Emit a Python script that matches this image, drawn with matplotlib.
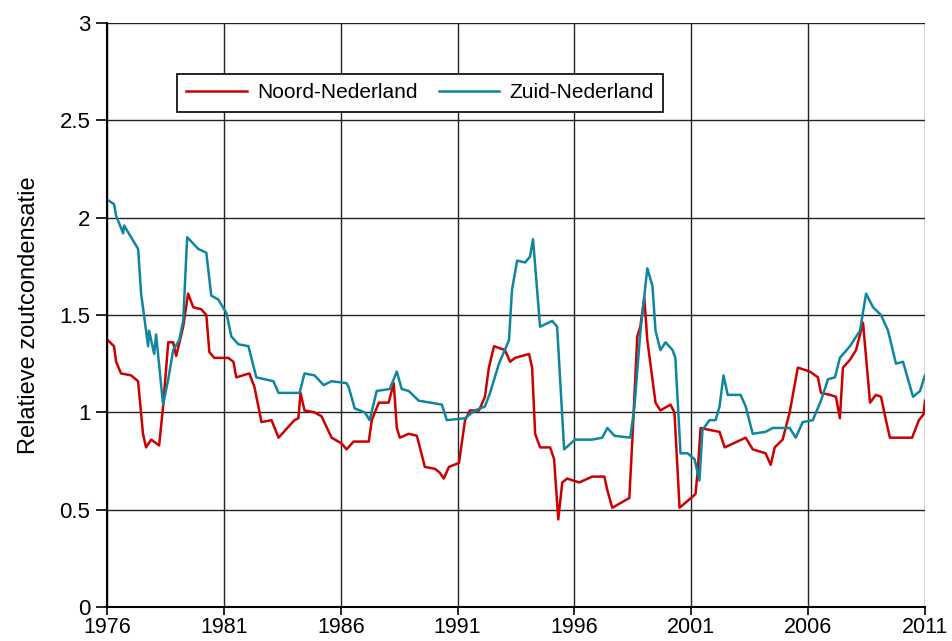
import matplotlib
matplotlib.use("Agg")
import matplotlib.pyplot as plt

plt.rcParams["font.family"] = ["Liberation Sans", "DejaVu Sans"]

noord_jaar = [1976.04, 1976.30, 1976.39, 1976.60, 1977.03, 1977.33, 1977.54, 1977.67, 1977.89, 1978.23,
              1978.40, 1978.62, 1978.83, 1978.96, 1979.26, 1979.47, 1979.69, 1980.03, 1980.25, 1980.38,
              1980.59, 1981.19, 1981.41, 1981.53, 1982.09, 1982.31, 1982.61, 1983.04, 1983.34, 1984.02,
              1984.19, 1984.28, 1984.45, 1984.88, 1985.18, 1985.61, 1986.04, 1986.25, 1986.55, 1987.20,
              1987.33, 1987.63, 1988.05, 1988.27, 1988.40, 1988.53, 1988.91, 1989.26, 1989.60, 1990.03,
              1990.24, 1990.41, 1990.63, 1991.06, 1991.32, 1991.53, 1991.92, 1992.17, 1992.34, 1992.56,
              1993.03, 1993.25, 1993.46, 1994.06, 1994.19, 1994.32, 1994.53, 1994.96, 1995.13, 1995.31,
              1995.48, 1995.69, 1996.21, 1996.76, 1997.28, 1997.41, 1997.62, 1998.35, 1998.48, 1998.69,
              1998.82, 1998.99, 1999.12, 1999.47, 1999.68, 2000.11, 2000.28, 2000.50, 2001.18, 2001.27,
              2001.40, 2001.78, 2002.21, 2002.43, 2003.33, 2003.63, 2004.18, 2004.40, 2004.57, 2004.91,
              2005.21, 2005.56, 2006.07, 2006.42, 2006.55, 2006.94, 2007.19, 2007.36, 2007.49, 2007.79,
              2008.05, 2008.35, 2008.65, 2008.90, 2009.12, 2009.33, 2009.50, 2009.93, 2010.45, 2010.74,
              2010.94, 2011.0]
noord_waarde = [1.37, 1.34, 1.26, 1.20, 1.19, 1.16, 0.89, 0.82, 0.86, 0.83,
                1.03, 1.36, 1.36, 1.29, 1.44, 1.61, 1.54, 1.53, 1.50, 1.31,
                1.28, 1.28, 1.26, 1.18, 1.20, 1.13, 0.95, 0.96, 0.87, 0.96,
                0.97, 1.10, 1.01, 1.00, 0.98, 0.87, 0.84, 0.81, 0.85, 0.85,
                0.96, 1.05, 1.05, 1.15, 0.92, 0.87, 0.89, 0.88, 0.72, 0.71,
                0.69, 0.66, 0.72, 0.74, 0.96, 1.01, 1.01, 1.08, 1.23, 1.34,
                1.32, 1.26, 1.28, 1.30, 1.23, 0.89, 0.82, 0.82, 0.76, 0.45,
                0.64, 0.66, 0.64, 0.67, 0.67, 0.60, 0.51, 0.56, 0.86, 1.39,
                1.44, 1.59, 1.37, 1.05, 1.01, 1.04, 1.00, 0.51, 0.58, 0.69,
                0.92, 0.91, 0.90, 0.82, 0.87, 0.81, 0.79, 0.73, 0.82, 0.86,
                1.00, 1.23, 1.21, 1.18, 1.10, 1.09, 1.08, 0.97, 1.23, 1.27,
                1.32, 1.46, 1.05, 1.09, 1.08, 0.96, 0.87, 0.87, 0.87, 0.96,
                0.99, 1.06]

# Zuid-Nederland
zuid_jaar = [1976.04, 1976.30, 1976.39, 1976.69, 1976.73, 1977.33, 1977.46, 1977.76, 1977.80, 1978.02,
             1978.10, 1978.40, 1978.62, 1978.83, 1979.09, 1979.26, 1979.43, 1979.90, 1980.25, 1980.46,
             1980.76, 1981.11, 1981.32, 1981.62, 1982.05, 1982.39, 1983.12, 1983.34, 1984.24, 1984.45,
             1984.88, 1985.27, 1985.61, 1986.25, 1986.34, 1986.60, 1987.03, 1987.24, 1987.54, 1988.10,
             1988.40, 1988.61, 1988.91, 1989.34, 1990.33, 1990.54, 1991.32, 1991.74, 1992.17, 1992.39,
             1992.77, 1993.20, 1993.33, 1993.55, 1993.89, 1994.10, 1994.23, 1994.53, 1995.05, 1995.26,
             1995.56, 1996.03, 1996.76, 1997.19, 1997.41, 1997.71, 1998.39, 1998.57, 1998.82, 1999.12,
             1999.34, 1999.47, 1999.68, 1999.90, 2000.20, 2000.32, 2000.54, 2000.84, 2001.14, 2001.35,
             2001.48, 2001.78, 2002.04, 2002.21, 2002.38, 2002.56, 2003.11, 2003.33, 2003.63, 2004.18,
             2004.49, 2005.21, 2005.47, 2005.77, 2006.20, 2006.55, 2006.85, 2007.15, 2007.36, 2007.79,
             2008.22, 2008.48, 2008.78, 2009.12, 2009.42, 2009.76, 2010.06, 2010.49, 2010.79, 2011.0]
zuid_waarde = [2.09, 2.07, 2.01, 1.92, 1.96, 1.84, 1.61, 1.34, 1.42, 1.30,
               1.40, 1.04, 1.17, 1.32, 1.37, 1.47, 1.90, 1.84, 1.82, 1.60,
               1.58, 1.51, 1.39, 1.35, 1.34, 1.18, 1.16, 1.10, 1.10, 1.20,
               1.19, 1.14, 1.16, 1.15, 1.13, 1.02, 1.00, 0.96, 1.11, 1.12,
               1.21, 1.12, 1.11, 1.06, 1.04, 0.96, 0.97, 1.01, 1.03, 1.10,
               1.25, 1.37, 1.63, 1.78, 1.77, 1.80, 1.89, 1.44, 1.47, 1.44,
               0.81, 0.86, 0.86, 0.87, 0.92, 0.88, 0.87, 1.03, 1.41, 1.74,
               1.65, 1.42, 1.32, 1.36, 1.32, 1.28, 0.79, 0.79, 0.76, 0.65,
               0.91, 0.96, 0.96, 1.03, 1.19, 1.09, 1.09, 1.03, 0.89, 0.90,
               0.92, 0.92, 0.87, 0.95, 0.96, 1.06, 1.17, 1.18, 1.28, 1.34,
               1.42, 1.61, 1.54, 1.50, 1.42, 1.25, 1.26, 1.08, 1.11, 1.19]

x_ticks = [1976, 1981, 1986, 1991, 1996, 2001, 2006, 2011]
y_ticks = [0, 0.5, 1, 1.5, 2, 2.5, 3]
y_labels = ["0", "0.5", "1", "1.5", "2", "2.5", "3"]

fig = plt.figure(figsize=(9.52, 6.41), dpi=100)
ax = fig.add_axes([0.1124, 0.053, 0.8592, 0.911])

ax.plot(noord_jaar, noord_waarde, color="#CC0000", lw=1.8, label="Noord-Nederland")
ax.plot(zuid_jaar, zuid_waarde, color="#0E86A0", lw=1.8, label="Zuid-Nederland")

ax.set_xlim(1976, 2011)
ax.set_ylim(0, 3)
ax.set_xticks(x_ticks)
ax.set_yticks(y_ticks)
ax.set_yticklabels(y_labels)
ax.grid(True, color="#222222", lw=1.0)
ax.set_axisbelow(True)
for s in ["top", "right"]:
    ax.spines[s].set_visible(False)
ax.spines["left"].set_linewidth(1.5)
ax.spines["bottom"].set_linewidth(1.5)
ax.tick_params(direction="out", length=8, width=1.2, pad=4, labelsize=16)
ax.tick_params(axis="x", length=6, pad=1, labelsize=15.5)
ax.set_ylabel("Relatieve zoutcondensatie", fontsize=17, labelpad=14)

leg = ax.legend(loc="upper left", bbox_to_anchor=(0.0856, 0.9127), ncol=2, fontsize=15,
                frameon=True, fancybox=False, edgecolor="black", framealpha=1,
                handlelength=2.9, handletextpad=0.5, columnspacing=1.0,
                borderpad=0.45, borderaxespad=0)
leg.get_frame().set_linewidth(1.2)

fig.savefig("out.png", dpi=100)
